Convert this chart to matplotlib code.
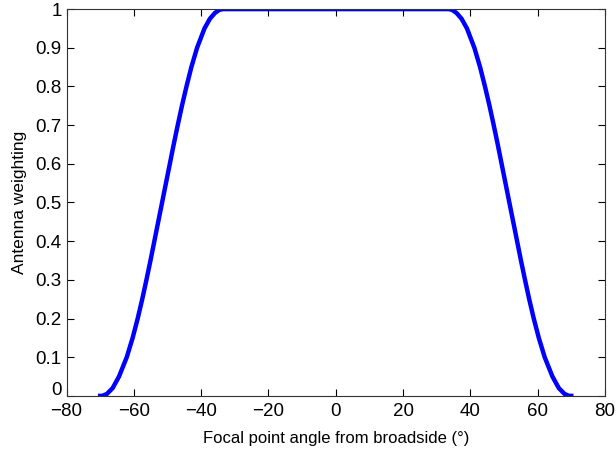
import matplotlib
matplotlib.use("Agg")
import matplotlib.pyplot as plt
import matplotlib.transforms as mtransforms

# points (angle in degrees, weighting)
angle = [-70.0, -69.3, -68.0, -66.3, -64.4, -62.1, -60.35, -58.85, -57.5, -56.25,
         -55.05, -53.9, -52.75, -51.6, -50.45, -49.3, -48.15, -46.95, -45.7, -44.35,
         -42.9, -41.2, -39.0, -37.4, -35.9, -34.6, -33.5,
         33.5, 34.6, 35.9, 37.4, 39.0, 41.2, 42.9, 44.35, 45.7, 46.95,
         48.15, 49.3, 50.45, 51.6, 52.75, 53.9, 55.05, 56.25, 57.5, 58.85,
         60.35, 62.1, 64.4, 66.3, 68.0, 69.3, 70.0]
weight = [0.0, 0.0, 0.005, 0.02, 0.05, 0.10, 0.15, 0.20, 0.25, 0.30,
          0.35, 0.40, 0.45, 0.50, 0.55, 0.60, 0.65, 0.70, 0.75, 0.80,
          0.85, 0.90, 0.95, 0.975, 0.99, 0.998, 1.0,
          1.0, 0.998, 0.99, 0.975, 0.95, 0.90, 0.85, 0.80, 0.75, 0.70,
          0.65, 0.60, 0.55, 0.50, 0.45, 0.40, 0.35, 0.30, 0.25, 0.20,
          0.15, 0.10, 0.05, 0.02, 0.005, 0.0, 0.0]

xticks = [-80, -60, -40, -20, 0, 20, 40, 60, 80]
yticks = [0, 0.1, 0.2, 0.3, 0.4, 0.5, 0.6, 0.7, 0.8, 0.9, 1]
yticklabels = ["0", "0.1", "0.2", "0.3", "0.4", "0.5", "0.6", "0.7", "0.8", "0.9", "1"]

plt.rcParams["font.family"] = ["Liberation Sans", "DejaVu Sans"]

fig = plt.figure(figsize=(6.16, 4.55), dpi=100)
ax = fig.add_axes([0.108, 0.130, 0.874, 0.850])

ax.plot(angle, weight, color="#0000ff", lw=3.2, solid_joinstyle="round")

ax.set_xlim(-80, 80)
ax.set_ylim(0, 1)
ax.set_xticks(xticks)
ax.set_yticks(yticks)
ax.set_yticklabels(yticklabels)
ax.tick_params(direction="in", top=True, right=True, labelsize=13.5, length=5, width=0.8)
ax.tick_params(axis="x", pad=5)
ax.set_xlabel("Focal point angle from broadside (°)", fontsize=12, labelpad=8)
ax.set_ylabel("Antenna weighting", fontsize=12.5, labelpad=6)
for s in ax.spines.values():
    s.set_linewidth(0.8)
    s.set_color("#333333")

# lift the "0" y label a little, like the original
lbl0 = ax.get_yticklabels()[0]
lbl0.set_transform(lbl0.get_transform() + mtransforms.ScaledTranslation(0, 5 / 72, fig.dpi_scale_trans))

fig.savefig("out.png", dpi=100)
